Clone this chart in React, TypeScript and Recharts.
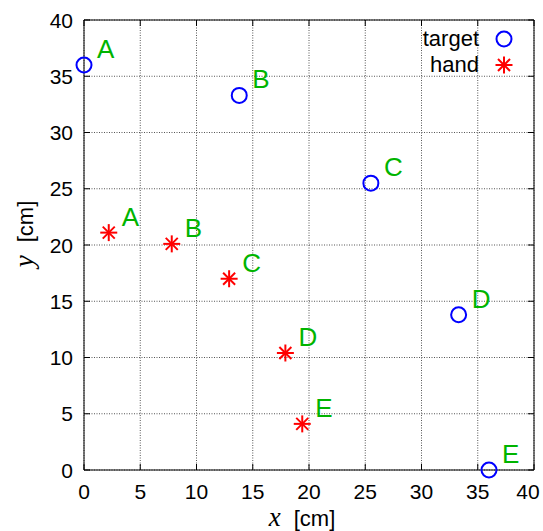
import React from "react";
import {
  ScatterChart,
  Scatter,
  XAxis,
  YAxis,
  CartesianGrid,
  ReferenceLine,
} from "recharts";

const pointLabels = ["A", "B", "C", "D", "E"];
const targetX = [0, 13.8, 25.5, 33.3, 36];
const targetY = [36, 33.3, 25.5, 13.8, 0];
const handX = [2.2, 7.8, 12.9, 17.9, 19.4];
const handY = [21.1, 20.1, 17.0, 10.4, 4.1];
const axisTicks = [0, 5, 10, 15, 20, 25, 30, 35, 40];

const targetData = pointLabels.map((label, i) => ({ label, x: targetX[i], y: targetY[i] }));
const handData = pointLabels.map((label, i) => ({ label, x: handX[i], y: handY[i] }));

const W = 543;
const H = 531;
const M = { top: 20, right: 9, left: 0, bottom: 0 };
const Y_AXIS_W = 84;
const X_AXIS_H = 61;
const PLOT_W = W - M.left - M.right - Y_AXIS_W;
const PLOT_H = H - M.top - M.bottom - X_AXIS_H;
const SANS = "'Liberation Sans', Arial, sans-serif";
const SERIF = "'Liberation Serif', 'Times New Roman', serif";
const GREEN = "#00b400";

function Circle({ cx, cy }: { cx: number; cy: number }) {
  return <circle cx={cx} cy={cy} r={7.5} fill="none" stroke="#0000ff" strokeWidth={2} />;
}

function Star({ cx, cy }: { cx: number; cy: number }) {
  const r = 8.5;
  const d = r * 0.7071;
  return (
    <g stroke="#ff0000" strokeWidth={2}>
      <line x1={cx - r} y1={cy} x2={cx + r} y2={cy} />
      <line x1={cx} y1={cy - r} x2={cx} y2={cy + r} />
      <line x1={cx - d} y1={cy - d} x2={cx + d} y2={cy + d} />
      <line x1={cx - d} y1={cy + d} x2={cx + d} y2={cy - d} />
    </g>
  );
}

function markerShape(kind: "target" | "hand") {
  return (props: any) => {
    const { cx, cy, payload } = props;
    return (
      <g>
        {kind === "target" ? <Circle cx={cx} cy={cy} /> : <Star cx={cx} cy={cy} />}
        <text x={cx + 13} y={cy - 7} fill={GREEN} fontSize={26} fontFamily={SANS}>
          {payload.label}
        </text>
      </g>
    );
  };
}

function XTick(props: any) {
  const { x, y, payload } = props;
  // last label gets nudged left so it stays inside the window
  const lx = payload.value === 40 ? x - 6 : x;
  return (
    <g>
      <line x1={x} x2={x} y1={y} y2={y - 6} stroke="#000" />
      <line x1={x} x2={x} y1={y - PLOT_H} y2={y - PLOT_H + 6} stroke="#000" />
      <text x={lx} y={y + 29} textAnchor="middle" fontSize={21} fontFamily={SANS} fill="#000">
        {payload.value}
      </text>
    </g>
  );
}

function YTick(props: any) {
  const { x, y, payload } = props;
  return (
    <g>
      <line x1={x} x2={x + 6} y1={y} y2={y} stroke="#000" />
      <line x1={x + PLOT_W} x2={x + PLOT_W - 6} y1={y} y2={y} stroke="#000" />
      <text x={x - 11} y={y + 7.5} textAnchor="end" fontSize={21} fontFamily={SANS} fill="#000">
        {payload.value}
      </text>
    </g>
  );
}

function LegendBox() {
  const rows = [
    { name: "target", icon: <Circle cx={10} cy={10} /> },
    { name: "hand", icon: <Star cx={10} cy={10} /> },
  ];
  return (
    <div style={{ position: "absolute", top: 26, left: 405, width: 109 }}>
      {rows.map((r) => (
        <div
          key={r.name}
          style={{ display: "flex", alignItems: "center", justifyContent: "flex-end", height: 26 }}
        >
          <span style={{ fontFamily: SANS, fontSize: 22, color: "#000", lineHeight: "26px" }}>{r.name}</span>
          <svg width={20} height={20} style={{ marginLeft: 15 }}>
            {r.icon}
          </svg>
        </div>
      ))}
    </div>
  );
}

export default function App() {
  return (
    <div style={{ position: "absolute", left: 0, top: 0, width: W, height: H, background: "#fff" }}>
      <ScatterChart width={W} height={H} margin={M}>
        <CartesianGrid stroke="#555" strokeDasharray="1 1.5" />
        <XAxis
          type="number"
          dataKey="x"
          domain={[0, 40]}
          ticks={axisTicks}
          height={X_AXIS_H}
          tickSize={0}
          tickMargin={0}
          tickLine={false}
          tick={<XTick />}
          axisLine={{ stroke: "#000" }}
          interval={0}
          label={{
            content: (p: any) => {
              const vb = p.viewBox;
              return (
                <text x={vb.x + vb.width / 2 - 7} y={vb.y + 56} textAnchor="middle" fill="#000">
                  <tspan fontFamily={SERIF} fontStyle="italic" fontSize={27}>x</tspan>
                  <tspan fontFamily={SANS} fontSize={22} dx={13}>[cm]</tspan>
                </text>
              );
            },
          }}
        />
        <YAxis
          type="number"
          dataKey="y"
          domain={[0, 40]}
          ticks={axisTicks}
          width={Y_AXIS_W}
          tickSize={0}
          tickMargin={0}
          tickLine={false}
          tick={<YTick />}
          axisLine={{ stroke: "#000" }}
          interval={0}
          label={{
            content: (p: any) => {
              const vb = p.viewBox;
              const cx = vb.x + 33;
              const cy = vb.y + vb.height / 2 - 11;
              return (
                <text
                  x={cx}
                  y={cy}
                  textAnchor="middle"
                  fill="#000"
                  transform={`rotate(-90, ${cx}, ${cy})`}
                >
                  <tspan fontFamily={SERIF} fontStyle="italic" fontSize={27}>y</tspan>
                  <tspan fontFamily={SANS} fontSize={22} dx={13}>[cm]</tspan>
                </text>
              );
            },
          }}
        />
        <ReferenceLine x={40} stroke="#000" />
        <ReferenceLine y={40} stroke="#000" />
        <Scatter name="target" data={targetData} shape={markerShape("target")} isAnimationActive={false} />
        <Scatter name="hand" data={handData} shape={markerShape("hand")} isAnimationActive={false} />
      </ScatterChart>
      <LegendBox />
    </div>
  );
}
